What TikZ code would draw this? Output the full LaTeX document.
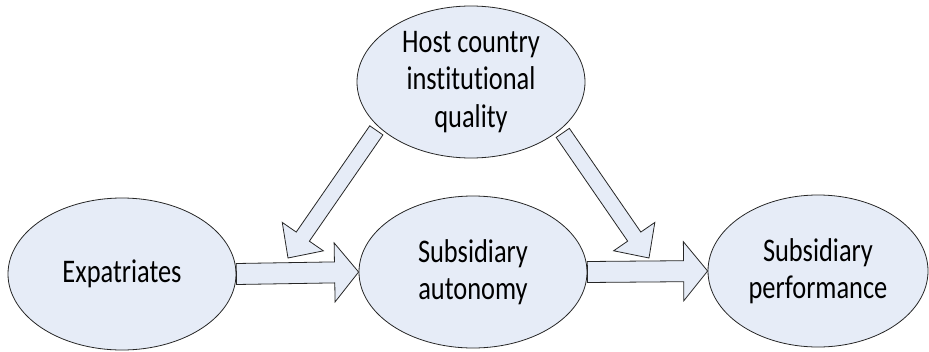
\documentclass[tikz,border=0pt]{standalone}
\usepackage{fontspec}
\setmainfont{Carlito}[FakeStretch=0.8,RawFeature={-liga;-clig}]
\usetikzlibrary{shapes.geometric,calc}
\definecolor{paleblue}{RGB}{230,236,247}

\newcommand{\fatarrow}[5]{%
  \coordinate (hb) at ($(#2)!#5!(#1)$);
  \draw[fat] ($(#1)!#3!90:(#2)$) -- ($(hb)!#3!-90:(#1)$) -- ($(hb)!#4!-90:(#1)$) -- (#2)
    -- ($(hb)!#4!90:(#1)$) -- ($(hb)!#3!90:(#1)$) -- ($(#1)!#3!-90:(#2)$) -- cycle;
}

\begin{document}
\begin{tikzpicture}[x=1pt,y=-1pt,
    oval/.style={draw=black!85,line width=0.8pt,ellipse,fill=paleblue,inner sep=-6pt,
      minimum width=228pt,minimum height=152pt,align=center,font=\fontsize{33}{37.5}\selectfont},
    fat/.style={draw=black!85,line width=0.8pt,fill=paleblue,line join=miter}]
    \useasboundingbox (0,0) rectangle (929,351);
    \node (host) [oval] at (471,82) {Host country\\institutional\\quality};
    \node (expat) [oval] at (122,274) {Expatriates};
    \node (auton) [oval] at (473,272) {Subsidiary\\autonomy};
    \node (perf) [oval,minimum width=220pt] at (818,271) {Subsidiary\\performance};
    \coordinate (tipL) at (288,258);
    \coordinate (tipR) at (649,258);
    \coordinate (tailL) at ($(host.206)!4pt!(tipL)$);
    \coordinate (tailR) at ($(host.332)!4pt!(tipR)$);
    \fatarrow{expat.east}{auton.west}{10.5pt}{29.5pt}{24pt}
    \fatarrow{auton.east}{perf.west}{10.5pt}{29.5pt}{24pt}
    \fatarrow{tailL}{tipL}{8pt}{25pt}{26pt}
    \fatarrow{tailR}{tipR}{8pt}{25pt}{26pt}
\end{tikzpicture}
\end{document}
